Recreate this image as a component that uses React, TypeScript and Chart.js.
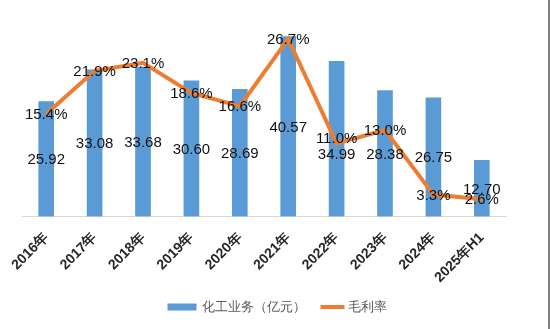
import React, { useEffect, useRef } from 'react';
import Chart from 'chart.js/auto';

const categories = ['2016年', '2017年', '2018年', '2019年', '2020年', '2021年', '2022年', '2023年', '2024年', '2025年H1'];
const revenue = [25.92, 33.08, 33.68, 30.6, 28.69, 40.57, 34.99, 28.38, 26.75, 12.7];
const grossMargin = [15.4, 21.9, 23.1, 18.6, 16.6, 26.7, 11.0, 13.0, 3.3, 2.6];
const seriesNames = ['化工业务（亿元）', '毛利率'];

const BLUE = '#5B9BD5';
const ORANGE = '#ED7D31';
const FONT = '"Liberation Sans", Arial, sans-serif';

// manual label nudges (pixels) to avoid overlaps, as in the original
const barLabelNudge: Record<number, number> = { 6: 15 };
const lineLabelNudge: Record<number, number> = { 6: -6 };

const labelsPlugin = {
  id: 'valueLabels',
  afterDatasetsDraw(chart: any) {
    const ctx = chart.ctx;
    ctx.save();
    ctx.font = `15px ${FONT}`;
    ctx.fillStyle = '#111';
    ctx.textAlign = 'center';
    ctx.textBaseline = 'middle';
    const barMeta = chart.getDatasetMeta(0);
    barMeta.data.forEach((el: any, i: number) => {
      const p = el.getProps(['x', 'y', 'base'], true);
      ctx.fillText(revenue[i].toFixed(2), p.x, (p.y + p.base) / 2 + 1 + (barLabelNudge[i] || 0));
    });
    const lineMeta = chart.getDatasetMeta(1);
    lineMeta.data.forEach((el: any, i: number) => {
      const p = el.getProps(['x', 'y'], true);
      ctx.fillText(grossMargin[i].toFixed(1) + '%', p.x, p.y + 1 + (lineLabelNudge[i] || 0));
    });
    ctx.restore();
  },
  afterDraw(chart: any) {
    const ctx = chart.ctx;
    ctx.save();
    // right border
    ctx.fillStyle = '#7f7f7f';
    ctx.fillRect(548, 0, 2, chart.height);
    // legend
    ctx.font = `13px ${FONT}`;
    const w1 = ctx.measureText(seriesNames[0]).width;
    const w2 = ctx.measureText(seriesNames[1]).width;
    const total = 29 + 5 + w1 + 15 + 24 + 3 + w2;
    let x = 275 - total / 2 + 2;
    const y = 307;
    ctx.fillStyle = BLUE;
    ctx.fillRect(x, y - 3.5, 29, 7);
    x += 34;
    ctx.fillStyle = '#595959';
    ctx.textBaseline = 'middle';
    ctx.textAlign = 'left';
    ctx.fillText(seriesNames[0], x, y);
    x += w1 + 15;
    ctx.strokeStyle = ORANGE;
    ctx.lineWidth = 4;
    ctx.beginPath();
    ctx.moveTo(x, y);
    ctx.lineTo(x + 24, y);
    ctx.stroke();
    x += 27;
    ctx.fillText(seriesNames[1], x, y);
    ctx.restore();
  },
};

export default function App() {
  const ref = useRef<HTMLCanvasElement>(null);
  useEffect(() => {
    document.body.style.margin = '0';
    const chart = new Chart(ref.current!, {
      type: 'bar',
      data: {
        labels: categories,
        datasets: [
          {
            type: 'bar',
            label: seriesNames[0],
            data: revenue,
            backgroundColor: BLUE,
            barThickness: 15,
            yAxisID: 'y',
            order: 1,
          },
          {
            type: 'line',
            label: seriesNames[1],
            data: grossMargin,
            borderColor: ORANGE,
            backgroundColor: ORANGE,
            borderWidth: 4,
            pointRadius: 0,
            tension: 0,
            yAxisID: 'y1',
            order: 0,
          } as any,
        ],
      },
      options: {
        responsive: false,
        animation: false,
        layout: { padding: { left: 22, right: 44, top: 17, bottom: 38 } },
        plugins: { legend: { display: false }, tooltip: { enabled: false } },
        scales: {
          x: {
            grid: { display: false },
            border: { display: true, color: '#d9d9d9', width: 1 },
            ticks: {
              autoSkip: false,
              maxRotation: 45,
              minRotation: 45,
              color: '#262626',
              font: { family: FONT, size: 14, weight: 'bold' },
              padding: 5,
            },
          },
          y: { display: false, min: 0, max: 45 },
          y1: { display: false, min: 0, max: 30, position: 'right' },
        },
      },
      plugins: [labelsPlugin],
    });
    return () => chart.destroy();
  }, []);
  return (
    <div style={{ width: 550, height: 329, background: '#fff' }}>
      <canvas ref={ref} width={550} height={329} style={{ display: 'block' }} />
    </div>
  );
}
